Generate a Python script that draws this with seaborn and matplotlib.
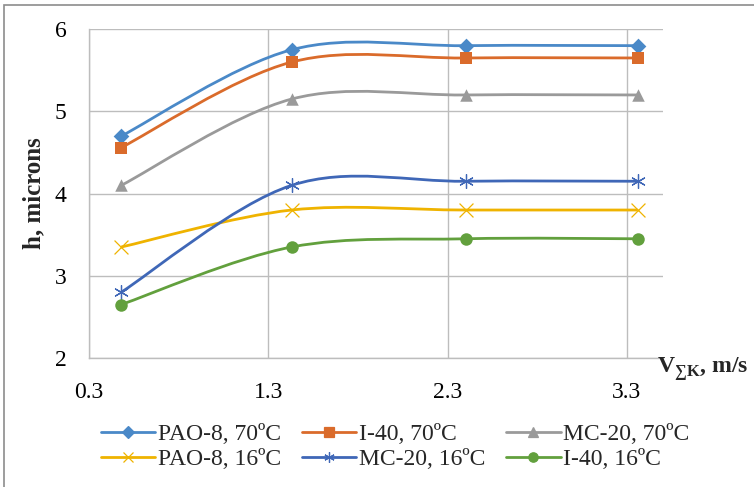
import numpy as np
import pandas as pd
import seaborn as sns
from matplotlib import pyplot as plt
from matplotlib.path import Path
from matplotlib.patches import PathPatch, Rectangle
from matplotlib.lines import Line2D

speed = [0.48, 1.43, 2.40, 3.36]
series_names = ["PAO-8, 70ºC", "I-40, 70ºC", "MC-20, 70ºC",
                "PAO-8, 16ºC", "MC-20, 16ºC", "I-40, 16ºC"]
pao8_70 = [4.70, 5.75, 5.80, 5.80]
i40_70 = [4.56, 5.60, 5.65, 5.65]
mc20_70 = [4.10, 5.15, 5.20, 5.20]
pao8_16 = [3.35, 3.80, 3.80, 3.80]
mc20_16 = [2.80, 4.10, 4.15, 4.15]
i40_16 = [2.65, 3.35, 3.45, 3.45]
x_ticks = [0.3, 1.3, 2.3, 3.3]
y_ticks = [2, 3, 4, 5, 6]

colors = ["#4A89C8", "#DA6B2B", "#9A9A9A", "#EFB300", "#3F67B7", "#62A03D"]
markers = ["D", "s", "^", "x", (6, 2, 0), "o"]
msizes = [8, 9, 9, 10, 10, 9]


def smooth_path(xs, ys):
    """Excel-like smoothed line: cubic bezier segments through the points."""
    pts = np.column_stack([xs, ys])
    verts = [pts[0]]
    codes = [Path.MOVETO]
    n = len(pts)
    for i in range(n - 1):
        p0 = pts[max(i - 1, 0)]
        p1 = pts[i]
        p2 = pts[i + 1]
        p3 = pts[min(i + 2, n - 1)]
        verts += [p1 + (p2 - p0) / 6, p2 - (p3 - p1) / 6, p2]
        codes += [Path.CURVE4] * 3
    return Path(verts, codes)


sns.set_style("white")
plt.rcParams["font.family"] = ["Liberation Serif", "DejaVu Serif"]
plt.rcParams["mathtext.fontset"] = "custom"
plt.rcParams["mathtext.rm"] = "Liberation Serif"
plt.rcParams["mathtext.bf"] = "Liberation Serif:bold"

all_values = [pao8_70, i40_70, mc20_70, pao8_16, mc20_16, i40_16]
df = pd.DataFrame({
    "v": speed * len(series_names),
    "h": sum(all_values, []),
    "series": np.repeat(series_names, len(speed)),
})

fig = plt.figure(figsize=(7.54, 4.87), dpi=100)
ax = fig.add_axes([0.118, 0.265, 0.761, 0.675])

for name, col in zip(series_names, colors):
    sub = df[df.series == name]
    ax.add_patch(PathPatch(smooth_path(sub.v.values, sub.h.values),
                           facecolor="none", edgecolor=col, lw=2.0, zorder=3))

thin = ("x", (6, 2, 0))
for name, col, mk, ms in zip(series_names, colors, markers, msizes):
    sub = df[df.series == name]
    sns.scatterplot(data=sub, x="v", y="h", ax=ax, color=col, marker=mk,
                    s=ms ** 2, linewidth=0.9 if mk in thin else 0,
                    edgecolor=col, zorder=4, legend=False)

ax.set_xlim(0.3, 3.5)
ax.set_ylim(2, 6)
ax.set_xticks(x_ticks)
ax.set_xticklabels([str(t) for t in x_ticks])
ax.set_yticks(y_ticks)
ax.grid(True, color="#BDBDBD", lw=1.0)
ax.set_axisbelow(True)
for side in ["top", "right"]:
    ax.spines[side].set_visible(False)
for side in ["left", "bottom"]:
    ax.spines[side].set_color("#BDBDBD")
    ax.spines[side].set_linewidth(1.0)
ax.tick_params(length=0, labelsize=17, colors="black")
ax.tick_params(axis="x", pad=17)
ax.tick_params(axis="y", pad=16)
ax.set_xlabel("")
ax.set_ylabel("h, microns", fontsize=18, fontweight="bold", labelpad=7)

fig.text(0.872, 0.215, r"$\mathbf{V}_{\mathbf{∑K}}$, m/s", fontsize=17,
         fontweight="bold", ha="left", va="bottom")

handles = [Line2D([], [], color=c, marker=m, markersize=s * 0.75, lw=2.0,
                  markeredgewidth=0.9) for c, m, s in zip(colors, markers, msizes)]
# fig.legend fills column by column, so reorder to read row by row
order = [0, 3, 1, 4, 2, 5]
fig.legend([handles[i] for i in order], [series_names[i] for i in order],
           ncol=3, loc="center", bbox_to_anchor=(0.524, 0.082),
           frameon=False, fontsize=17, handlelength=2.3, handletextpad=0.1,
           columnspacing=0.9, labelspacing=0.15)

fig.patches.append(Rectangle((4 / 754, -0.1), 1.1, 1.1 - 5 / 487,
                             transform=fig.transFigure, fill=False,
                             edgecolor="#8C8C8C", lw=1.2))

fig.savefig("out.png", dpi=100)
